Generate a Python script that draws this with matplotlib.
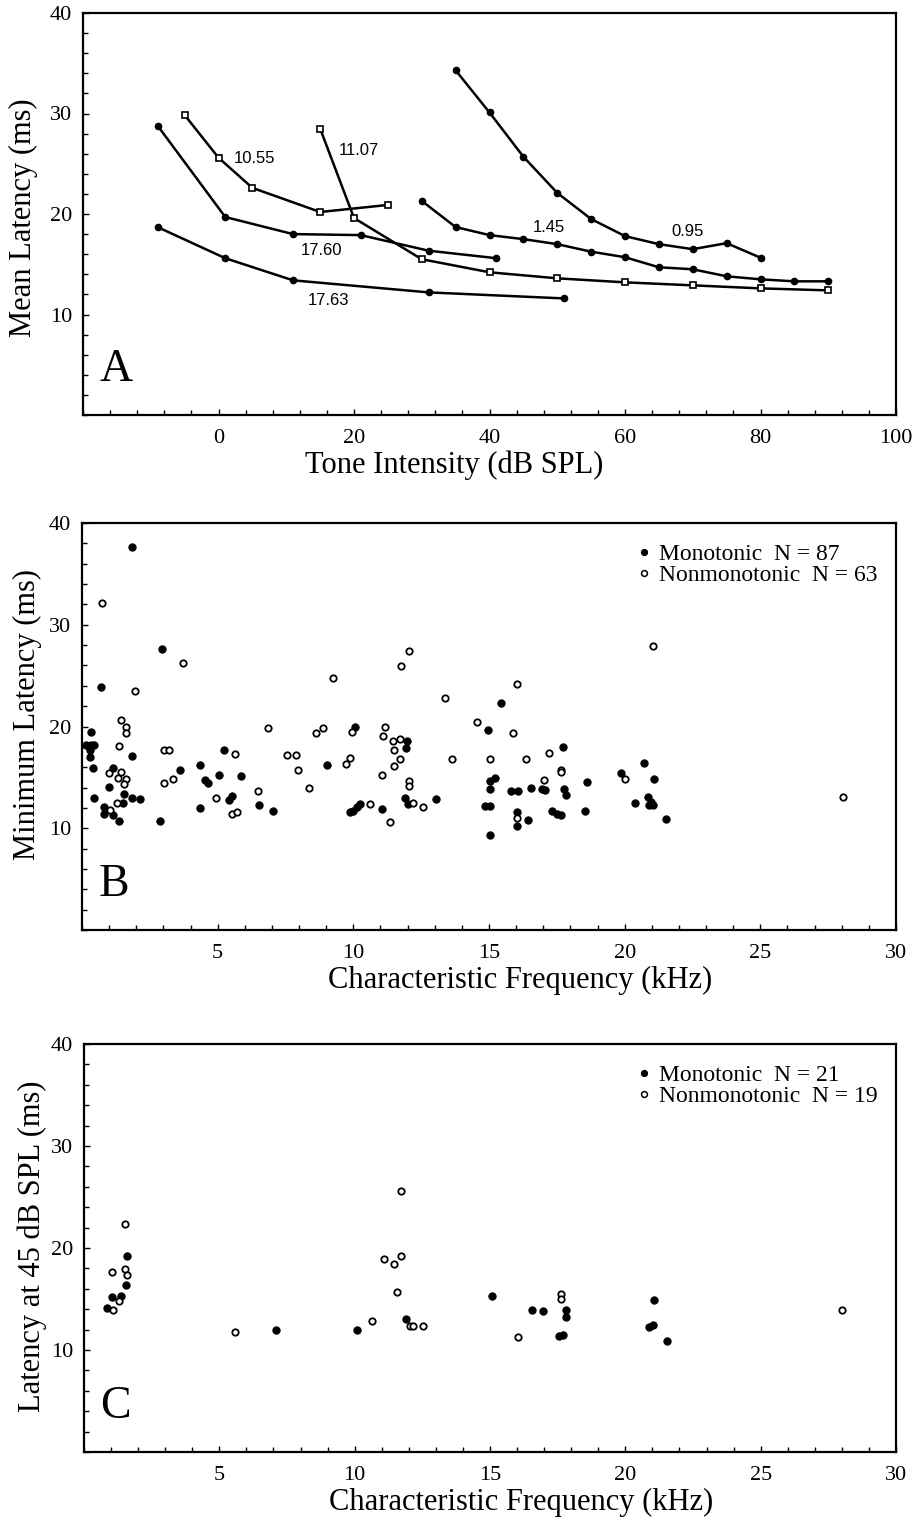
import matplotlib
matplotlib.use("Agg")
import matplotlib.pyplot as plt
from matplotlib.ticker import FixedLocator, MultipleLocator
from matplotlib.lines import Line2D

SERIF = ["Liberation Serif", "DejaVu Serif"]
SANS = ["Liberation Sans", "DejaVu Sans"]

# ---- panel A: latency vs intensity, one curve per unit (label = CF in kHz)
a_labels = ["10.55", "11.07", "17.60", "17.63", "1.45", "0.95"]
a_square = [True, True, False, False, False, False]
a_x = [
    [-5, 0, 5, 15, 25],
    [15, 20, 30, 40, 50, 60, 70, 80, 90],
    [-9, 1, 11, 21, 31, 41],
    [-9, 1, 11, 31, 51],
    [30, 35, 40, 45, 50, 55, 60, 65, 70, 75, 80, 85, 90],
    [35, 40, 45, 50, 55, 60, 65, 70, 75, 80],
]
a_y = [
    [29.85, 25.6, 22.6, 20.2, 20.9],
    [28.5, 19.6, 15.5, 14.2, 13.6, 13.2, 12.9, 12.6, 12.4],
    [28.8, 19.7, 18.0, 17.9, 16.35, 15.6],
    [18.7, 15.6, 13.4, 12.2, 11.6],
    [21.3, 18.7, 17.9, 17.5, 17.0, 16.25, 15.7, 14.7, 14.5, 13.8, 13.5, 13.3, 13.3],
    [34.3, 30.1, 25.7, 22.1, 19.5, 17.8, 17.0, 16.5, 17.1, 15.65],
]
a_label_pos = [(2.2, 25.5), (17.7, 26.3), (12.2, 16.4), (13.2, 11.4), (46.4, 18.7), (66.8, 18.3)]

# ---- panel B: minimum latency vs CF
b_mono_x = [1.86, 2.94, 0.71, 0.34, 0.15, 0.33, 0.45, 0.30, 0.30, 1.85, 5.23, 9.04, 10.06,
            3.62, 4.35, 4.52, 4.63, 5.05, 5.87, 5.42, 5.54, 4.36, 6.54, 7.05, 2.86, 9.87,
            10.0, 10.14, 10.23, 0.39, 1.13, 0.98, 1.53, 0.43, 1.84, 2.13, 1.5, 0.82, 0.82,
            1.15, 1.35,
            15.45, 14.95, 11.97, 11.95, 11.91, 12.0, 13.04, 17.72, 16.97, 17.06, 16.53,
            17.77, 17.82, 18.63, 18.53, 17.34, 17.51, 17.67, 16.45, 16.04, 16.04, 15.81,
            16.08, 15.04, 15.22, 15.04, 14.85, 15.04, 15.04, 11.05,
            20.71, 19.85, 21.09, 20.39, 20.86, 20.96, 21.04, 20.9, 21.53]
b_mono_y = [37.6, 27.6, 23.9, 19.5, 18.2, 18.2, 18.2, 17.7, 17.0, 17.1, 17.7, 16.2, 20.0,
            15.7, 16.2, 14.7, 14.4, 15.2, 15.1, 12.8, 13.2, 12.0, 12.3, 11.7, 10.7, 11.6,
            11.7, 12.1, 12.4, 15.9, 15.9, 14.1, 13.4, 13.0, 13.0, 12.9, 12.5, 12.1, 11.4,
            11.3, 10.7,
            22.3, 19.7, 18.6, 17.9, 13.0, 12.4, 12.9, 18.0, 13.9, 13.8, 14.0,
            13.9, 13.3, 14.5, 11.7, 11.7, 11.4, 11.3, 10.8, 11.6, 10.2, 13.7,
            13.7, 14.6, 14.9, 13.9, 12.2, 12.2, 9.3, 11.9,
            16.4, 15.4, 14.8, 12.5, 13.1, 12.6, 12.3, 12.3, 10.9]
b_non_x = [0.72, 3.74, 1.95, 1.45, 1.63, 1.63, 1.35, 3.03, 3.21, 5.64, 6.86, 7.54, 7.87,
           7.97, 8.64, 8.87, 9.24, 9.73, 9.87, 9.96, 8.36, 3.03, 3.36, 4.95, 5.54, 5.72,
           6.47, 10.6, 0.98, 1.45, 1.34, 1.63, 1.53, 1.29, 1.04,
           12.06, 11.74, 13.36, 16.04, 14.55, 15.87, 11.15, 11.09, 11.46, 11.73, 11.51,
           11.73, 11.51, 11.05, 12.05, 12.05, 12.19, 12.55, 13.64, 15.04, 16.36, 17.22,
           17.65, 17.65, 17.03, 16.04, 11.36,
           21.04, 20.03, 28.03]
b_non_y = [32.1, 26.2, 23.5, 20.6, 20.0, 19.4, 18.1, 17.7, 17.7, 17.3, 19.9, 17.2, 17.2,
           15.7, 19.4, 19.9, 24.8, 16.3, 16.9, 19.5, 14.0, 14.4, 14.8, 13.0, 11.4, 11.6,
           13.7, 12.4, 15.4, 15.5, 14.9, 14.8, 14.3, 12.5, 11.8,
           27.4, 25.9, 22.8, 24.2, 20.4, 19.4, 20.0, 19.1, 18.6, 18.8, 17.7,
           16.8, 16.1, 15.2, 14.6, 14.2, 12.5, 12.1, 16.8, 16.8, 16.8, 17.4,
           15.7, 15.5, 14.7, 11.0, 10.6,
           27.9, 14.8, 13.1]

# ---- panel C: latency at 45 dB SPL vs CF
c_mono_x = [1.60, 1.55, 1.03, 1.37, 0.85, 7.08, 10.07, 11.91, 15.06, 16.54, 16.95, 17.79,
            17.79, 17.54, 17.69, 21.06, 20.86, 21.02, 21.54]
c_mono_y = [19.2, 16.4, 15.2, 15.3, 14.1, 12.0, 12.0, 13.0, 15.3, 13.9, 13.8, 13.9,
            13.2, 11.4, 11.5, 14.9, 12.3, 12.5, 10.9]
c_non_x = [1.50, 1.03, 1.50, 1.60, 1.30, 1.08, 5.57, 10.63, 11.09, 11.45, 11.73, 11.73,
           11.55, 12.04, 12.16, 12.53, 16.05, 17.64, 17.64, 28.0]
c_non_y = [22.4, 17.6, 17.9, 17.4, 14.8, 13.9, 11.8, 12.8, 18.9, 18.4, 19.2, 25.6,
           15.7, 12.4, 12.4, 12.4, 11.3, 15.5, 15.0, 13.9]

W, H = 914, 1521
fig = plt.figure(figsize=(W / 100, H / 100), dpi=100)


def px_axes(l, t, r, b):
    return fig.add_axes([l / W, 1 - b / H, (r - l) / W, (b - t) / H])


def style(ax):
    for s in ax.spines.values():
        s.set_linewidth(1.6)
    ax.tick_params(which="both", direction="in", top=False, right=False, width=1.0)
    ax.tick_params(which="major", length=4.5, labelsize=16, pad=8)
    ax.tick_params(which="minor", length=3.5)
    for lab in ax.get_xticklabels() + ax.get_yticklabels():
        lab.set_family(SERIF)
    ax.yaxis.set_major_locator(FixedLocator([10, 20, 30, 40]))
    ax.yaxis.set_minor_locator(MultipleLocator(2))
    ax.set_ylim(0, 40)


# panel A
axA = px_axes(83, 13, 896, 415)
for xs, ys, sq in zip(a_x, a_y, a_square):
    if sq:
        axA.plot(xs, ys, color="black", lw=1.8, marker="s", ms=4.5, mfc="white",
                 mec="black", mew=1.2)
    else:
        axA.plot(xs, ys, color="black", lw=1.8, marker="o", ms=4.5, mfc="black",
                 mec="black")
for lab, (tx, ty) in zip(a_labels, a_label_pos):
    axA.text(tx, ty, lab, fontsize=12, family=SANS, ha="left", va="center")
axA.set_xlim(-20, 100)
axA.xaxis.set_major_locator(FixedLocator([0, 20, 40, 60, 80, 100]))
axA.xaxis.set_minor_locator(MultipleLocator(4))
style(axA)
axA.tick_params(axis="x", which="major", pad=10)
axA.set_ylabel("Mean Latency (ms)", fontsize=22, family=SERIF, va="center")
axA.yaxis.set_label_coords(-60 / 813, 0.49)
axA.set_xlabel("Tone Intensity (dB SPL)", fontsize=22, family=SERIF, va="center")
axA.xaxis.set_label_coords(0.456, -50 / 402)
axA.text(0.02, 0.06, "A", transform=axA.transAxes, fontsize=33, family=SERIF,
         ha="left", va="bottom")


def scatter_panel(ax, mx, my, nx, ny, n_mono, n_non, ylabel, letter, ylab_y, ylab_x):
    ax.plot(mx, my, ls="none", marker="o", ms=5.2, mfc="black", mec="black", mew=0.8)
    ax.plot(nx, ny, ls="none", marker="o", ms=4.6, mfc="white", mec="black", mew=1.3)
    ax.set_xlim(0, 30)
    ax.xaxis.set_major_locator(FixedLocator([5, 10, 15, 20, 25, 30]))
    ax.xaxis.set_minor_locator(MultipleLocator(1))
    style(ax)
    ax.tick_params(axis="x", which="major", pad=10)
    ax.set_ylabel(ylabel, fontsize=22, family=SERIF, va="center")
    ax.yaxis.set_label_coords(ylab_x, ylab_y)
    ax.set_xlabel("Characteristic Frequency (kHz)", fontsize=22, family=SERIF, va="center")
    ax.xaxis.set_label_coords(0.538, -50 / 407)
    ax.text(0.02, 0.06, letter, transform=ax.transAxes, fontsize=33, family=SERIF,
            ha="left", va="bottom")
    handles = [
        Line2D([], [], ls="none", marker="o", ms=4.2, mfc="black", mec="black"),
        Line2D([], [], ls="none", marker="o", ms=4.2, mfc="white", mec="black", mew=1.1),
    ]
    ax.legend(handles, ["Monotonic  N = %d" % n_mono, "Nonmonotonic  N = %d" % n_non],
              loc="upper right", bbox_to_anchor=(0.995, 0.985), frameon=False,
              prop={"family": SERIF, "size": 17}, handlelength=0.5,
              handletextpad=0.4, labelspacing=0.0, borderaxespad=0.2)


axB = px_axes(82, 523, 896, 930)
scatter_panel(axB, b_mono_x, b_mono_y, b_non_x, b_non_y, 87, 63,
              "Minimum Latency (ms)", "B", 0.53, -55 / 814)

axC = px_axes(84, 1044, 896, 1452)
scatter_panel(axC, c_mono_x, c_mono_y, c_non_x, c_non_y, 21, 19,
              "Latency at 45 dB SPL (ms)", "C", 0.505, -52 / 812)

fig.savefig("out.png", dpi=100, facecolor="white")
